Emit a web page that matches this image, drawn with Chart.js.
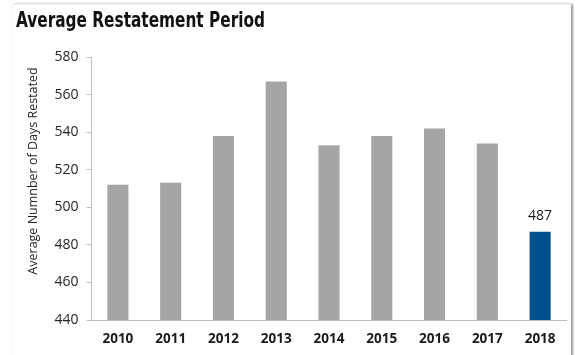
<!DOCTYPE html>
<html>
<head>
<meta charset="utf-8">
<script src="https://cdn.jsdelivr.net/npm/chart.js@4/dist/chart.umd.min.js"></script>
<style>
  html, body { margin: 0; padding: 0; background: #fff; }
  #wrap { position: relative; width: 579px; height: 355px; overflow: hidden; }
  #frame {
    position: absolute; left: 12px; top: 4px; width: 558px; height: 400px;
    border-left: 1px solid #f4f4f4; border-top: 1px solid #f4f4f4;
    box-shadow: 2px 0 2px #9a9a9a;
  }
  #chart { position: absolute; left: 0; top: 0; }
</style>
</head>
<body>
<div id="wrap">
  <div id="frame"></div>
  <canvas id="chart" width="579" height="355"></canvas>
</div>
<script>
// Restatement periods by year
const years = ['2010', '2011', '2012', '2013', '2014', '2015', '2016', '2017', '2018'];
const avgDays = [512, 513, 538, 567, 533, 538, 542, 534, 487];
const labelledYears = ['2018'];
const yTicks = { min: 440, max: 580, step: 20 };

const GREY = '#a5a5a5';
const BLUE = '#00508e';
const AXIS = '#bfbfbf';

const barColors = years.map(y => (y === '2018' ? BLUE : GREY));

// Heavy condensed heading, squeezed horizontally to a fixed width
const heading = {
  id: 'heading',
  afterDraw(chart) {
    const { ctx } = chart;
    const text = 'Average Restatement Period';
    ctx.save();
    ctx.font = 'bold 21.5px "DejaVu Sans Condensed", "DejaVu Sans", sans-serif';
    ctx.fillStyle = '#111111';
    ctx.textBaseline = 'alphabetic';
    const w = ctx.measureText(text).width;
    ctx.translate(16, 26.5);
    ctx.scale(249 / w, 1);
    ctx.fillText(text, 0, 0);
    ctx.restore();
  }
};

// Rotated y-axis caption, placed a little above the plot's middle
const yCaption = {
  id: 'yCaption',
  afterDraw(chart) {
    const { ctx } = chart;
    ctx.save();
    ctx.translate(33, 171);
    ctx.rotate(-Math.PI / 2);
    ctx.font = '12.5px "Open Sans", sans-serif';
    ctx.fillStyle = '#262626';
    ctx.textAlign = 'center';
    ctx.textBaseline = 'middle';
    ctx.fillText('Average Numnber of Days Restated', 0, 0);
    ctx.restore();
  }
};

// Value label above selected bars
const valueLabels = {
  id: 'valueLabels',
  afterDatasetsDraw(chart) {
    const { ctx } = chart;
    const meta = chart.getDatasetMeta(0);
    ctx.save();
    ctx.font = '14px "Open Sans", sans-serif';
    ctx.fillStyle = '#1a1a1a';
    ctx.textAlign = 'center';
    ctx.textBaseline = 'bottom';
    meta.data.forEach((bar, i) => {
      if (!labelledYears.includes(years[i])) return;
      ctx.fillText(String(avgDays[i]), bar.x, bar.y - 9);
    });
    ctx.restore();
  }
};

new Chart(document.getElementById('chart'), {
  type: 'bar',
  data: {
    labels: years,
    datasets: [{
      data: avgDays,
      backgroundColor: barColors,
      borderWidth: 0,
      barPercentage: 0.8,
      categoryPercentage: 0.5
    }]
  },
  options: {
    responsive: false,
    animation: false,
    events: [],
    layout: { padding: { left: 16, right: 12.5, top: 57, bottom: 0 } },
    plugins: {
      legend: { display: false },
      tooltip: { enabled: false },
      title: { display: false }
    },
    scales: {
      x: {
        grid: { display: false, drawTicks: false },
        border: { display: true, color: AXIS, width: 1 },
        ticks: {
          color: '#1a1a1a',
          padding: 11,
          font: { family: '"Open Sans", sans-serif', size: 13.5, weight: 'bold' }
        },
        afterFit(scale) { scale.height = 35; }
      },
      y: {
        min: yTicks.min,
        max: yTicks.max,
        grid: { drawOnChartArea: false, drawTicks: true, tickLength: 5, color: AXIS },
        border: { display: true, color: AXIS, width: 1 },
        ticks: {
          stepSize: yTicks.step,
          color: '#262626',
          padding: 8,
          font: { family: '"Open Sans", sans-serif', size: 14 }
        },
        afterFit(scale) { scale.width = 75.5; }
      }
    }
  },
  plugins: [heading, yCaption, valueLabels]
});
</script>
</body>
</html>
